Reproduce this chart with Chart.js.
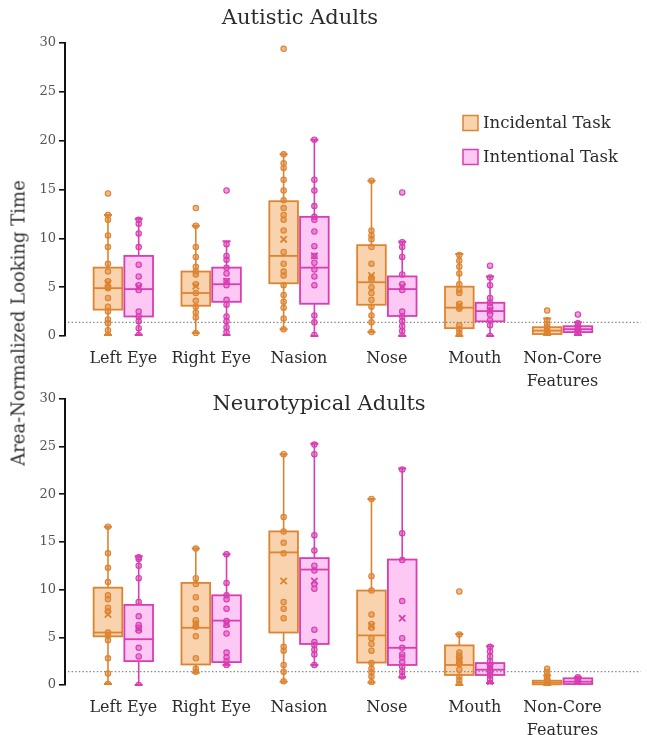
<!DOCTYPE html>
<html>
<head>
<meta charset="utf-8">
<script src="https://cdn.jsdelivr.net/npm/chart.js@4/dist/chart.umd.min.js"></script>
<style>
  html, body { margin: 0; padding: 0; background: #fff; }
  #wrap { position: relative; width: 647px; height: 735px; overflow: hidden; }
  canvas { position: absolute; left: 0; }
  #cTop { top: 0; }
  #cBottom { top: 388px; }
  #ytitle {
    position: absolute; left: 18px; top: 323px;
    transform: translate(-50%, -50%) rotate(-90deg);
    white-space: nowrap; font: 18px 'DejaVu Serif', serif; color: #333;
  }
</style>
</head>
<body>
<div id="wrap">
  <canvas id="cTop" width="647" height="392"></canvas>
  <canvas id="cBottom" width="647" height="347"></canvas>
  <div id="ytitle">Area-Normalized Looking Time</div>
</div>
<script>
// Facial regions (x categories) and the two viewing tasks
const categories = ['Left Eye', 'Right Eye', 'Nasion', 'Nose', 'Mouth', ['Non-Core', 'Features']];
const taskNames = ['Incidental Task', 'Intentional Task'];
const yTicks = [0, 5, 10, 15, 20, 25, 30];
const chanceLevel = 1.4;

// Box summaries per region: [lower whisker, Q1, median, Q3, upper whisker]
const autisticIncidentalBox = [
  [0.1, 2.7, 4.9, 7.0, 12.4], [0.3, 3.1, 4.4, 6.6, 11.3], [0.7, 5.4, 8.2, 13.8, 18.6],
  [0.4, 3.2, 5.5, 9.3, 15.9], [0.0, 0.8, 2.9, 5.05, 8.4], [0.1, 0.2, 0.55, 0.9, 1.8]
];
const autisticIntentionalBox = [
  [0.1, 2.0, 4.8, 8.2, 12.0], [0.1, 3.5, 5.3, 7.0, 9.7], [0.0, 3.3, 7.0, 12.2, 20.1],
  [0.0, 2.05, 4.8, 6.1, 9.65], [0.0, 1.5, 2.55, 3.4, 6.1], [0.1, 0.4, 0.7, 1.0, 1.4]
];
const neurotypicalIncidentalBox = [
  [0.1, 5.1, 5.5, 10.2, 16.6], [1.3, 2.15, 6.0, 10.7, 14.3], [0.35, 5.5, 13.9, 16.1, 24.2],
  [0.25, 2.35, 5.2, 9.9, 19.5], [0.0, 1.05, 2.1, 4.15, 5.35], [0.0, 0.07, 0.25, 0.45, 1.0]
];
const neurotypicalIntentionalBox = [
  [0.0, 2.5, 4.8, 8.4, 13.5], [2.1, 2.4, 6.75, 9.4, 13.7], [2.1, 4.3, 12.1, 13.3, 25.3],
  [0.8, 2.1, 3.9, 13.15, 22.7], [0.2, 1.05, 1.6, 2.3, 4.05], [0.1, 0.1, 0.35, 0.7, 0.8]
];

// Group means per region
const autisticIncidentalMean = [5.4, 5.1, 9.9, 6.2, 3.1, 0.6];
const autisticIntentionalMean = [5.0, 5.6, 8.2, 5.05, 2.6, 0.8];
const neurotypicalIncidentalMean = [7.4, 6.4, 10.9, 6.2, 2.6, 0.35];
const neurotypicalIntentionalMean = [5.9, 6.4, 10.9, 7.0, 1.9, 0.4];

// Individual participants per region
const autisticIncidentalPoints = [
  [14.6, 12.4, 11.9, 10.3, 9.1, 7.4, 6.6, 5.6, 5.0, 4.9, 3.9, 3.0, 2.5, 1.7, 1.3, 0.6, 0.1],
  [13.1, 11.3, 9.1, 8.1, 7.1, 6.6, 6.3, 5.3, 4.4, 3.6, 3.0, 2.4, 1.9, 0.3],
  [29.4, 18.6, 17.7, 17.2, 16.0, 14.9, 13.9, 13.1, 12.4, 11.9, 10.8, 8.6, 7.4, 6.6, 6.2, 5.2, 4.2, 3.5, 2.9, 1.8, 0.7],
  [15.9, 10.8, 10.3, 9.9, 9.1, 7.4, 6.0, 5.7, 5.0, 4.4, 3.7, 3.0, 2.1, 1.4, 0.4],
  [8.3, 7.7, 7.1, 6.4, 5.3, 4.7, 4.4, 3.3, 3.0, 2.8, 1.1, 0.7, 0.3, 0.0],
  [2.6, 1.6, 1.2, 0.9, 0.6, 0.4, 0.2, 0.1]
];
const autisticIntentionalPoints = [
  [11.9, 11.5, 10.5, 9.1, 7.3, 6.1, 5.2, 4.7, 2.5, 2.0, 1.5, 0.8, 0.1],
  [14.9, 9.4, 8.2, 7.8, 7.0, 6.4, 5.6, 5.2, 3.7, 3.2, 2.0, 1.5, 0.9, 0.4],
  [20.1, 16.0, 14.9, 13.3, 12.2, 11.9, 10.7, 9.2, 8.2, 7.5, 6.8, 6.1, 5.2, 2.1, 1.4, 0.1],
  [14.7, 9.6, 9.1, 8.1, 6.3, 5.3, 4.7, 2.5, 2.0, 1.5, 1.0, 0.5, 0.0],
  [7.2, 6.0, 5.2, 3.9, 3.4, 3.0, 2.6, 2.2, 1.6, 1.1, 0.0],
  [2.2, 1.3, 1.0, 0.8, 0.7, 0.6, 0.5, 0.3, 0.2]
];
const neurotypicalIncidentalPoints = [
  [16.6, 13.8, 12.3, 10.8, 9.4, 9.0, 8.1, 7.7, 5.5, 5.2, 4.7, 2.8, 1.2, 0.1],
  [14.3, 11.2, 10.6, 9.2, 8.0, 6.8, 6.4, 6.1, 5.1, 2.8, 1.7, 1.4],
  [24.2, 17.6, 16.1, 14.9, 13.8, 8.7, 8.0, 7.0, 4.0, 3.6, 2.1, 1.4, 0.4],
  [19.5, 11.4, 9.9, 7.4, 6.4, 6.0, 4.9, 4.3, 3.6, 2.3, 1.7, 1.3, 0.9, 0.3],
  [9.8, 5.3, 3.4, 3.1, 2.8, 2.5, 2.2, 1.6, 0.9, 0.5, 0.1],
  [1.7, 1.4, 1.0, 0.6, 0.4, 0.3, 0.2, 0.1, 0.0]
];
const neurotypicalIntentionalPoints = [
  [13.4, 13.2, 12.5, 11.2, 8.7, 7.2, 6.3, 6.0, 5.7, 3.9, 3.0, 0.0],
  [13.7, 10.7, 9.4, 9.0, 8.0, 6.7, 6.3, 5.4, 3.4, 2.9, 2.5, 2.1],
  [25.2, 24.2, 15.7, 14.1, 12.5, 12.0, 10.6, 10.1, 5.8, 4.5, 4.2, 3.7, 3.2, 2.1],
  [22.6, 15.9, 13.1, 8.8, 4.9, 3.9, 3.2, 2.9, 2.4, 1.9, 1.4, 0.9],
  [4.0, 3.5, 3.0, 2.5, 2.1, 1.8, 1.5, 1.3, 1.0, 0.6, 0.2],
  [0.8, 0.6, 0.5, 0.4, 0.3, 0.2]
];

// Styling
const FONT = "'DejaVu Serif', serif";
const taskStyles = [
  { stroke: '#DD8431', fill: '#F9D3AD', dot: 'rgba(221,132,49,0.55)', offset: -0.175 },
  { stroke: '#D93DB2', fill: '#FDC9F4', dot: 'rgba(217,61,178,0.5)', offset: 0.175 }
];
const BOX_HALF = 0.163;   // half box width in category units
const CAP_HALF = 4;       // half whisker-cap width in px

function scatterData(values, offset) {
  const out = [];
  values.forEach((list, i) => list.forEach(v => out.push({ x: i + offset, y: v })));
  return out;
}
function meanData(values, offset) {
  return values.map((v, i) => ({ x: i + offset, y: v }));
}

const boxPlugin = {
  id: 'boxes',
  beforeDatasetsDraw(chart) {
    const { ctx, chartArea, scales: { x, y } } = chart;
    const panel = chart.options.plugins.boxes;
    panel.boxes.forEach((boxes, k) => {
      const st = taskStyles[k];
      boxes.forEach((b, i) => {
        const [lo, q1, med, q3, hi] = b;
        const cx = x.getPixelForValue(i + st.offset);
        const l = x.getPixelForValue(i + st.offset - BOX_HALF);
        const r = x.getPixelForValue(i + st.offset + BOX_HALF);
        const pLo = y.getPixelForValue(lo), pQ1 = y.getPixelForValue(q1);
        const pMed = y.getPixelForValue(med), pQ3 = y.getPixelForValue(q3);
        const pHi = y.getPixelForValue(hi);
        ctx.save();
        ctx.strokeStyle = st.stroke;
        // whiskers and caps
        ctx.lineWidth = 1.6;
        ctx.beginPath();
        ctx.moveTo(cx, pQ3); ctx.lineTo(cx, pHi);
        ctx.moveTo(cx, pQ1); ctx.lineTo(cx, pLo);
        ctx.stroke();
        ctx.lineWidth = 2;
        ctx.beginPath();
        ctx.moveTo(cx - CAP_HALF, pHi); ctx.lineTo(cx + CAP_HALF, pHi);
        ctx.moveTo(cx - CAP_HALF, pLo); ctx.lineTo(cx + CAP_HALF, pLo);
        ctx.stroke();
        // box
        ctx.fillStyle = st.fill;
        ctx.fillRect(l, pQ3, r - l, pQ1 - pQ3);
        ctx.lineWidth = 1.8;
        ctx.strokeRect(l, pQ3, r - l, pQ1 - pQ3);
        // median
        ctx.beginPath();
        ctx.moveTo(l, pMed); ctx.lineTo(r, pMed);
        ctx.stroke();
        ctx.restore();
      });
    });
    // dotted reference level
    const cy = y.getPixelForValue(chanceLevel);
    ctx.save();
    ctx.strokeStyle = '#858585';
    ctx.lineWidth = 1.4;
    ctx.setLineDash([1.4, 2.2]);
    ctx.beginPath();
    ctx.moveTo(chartArea.left + 3, cy);
    ctx.lineTo(chartArea.right, cy);
    ctx.stroke();
    ctx.restore();
  },
  afterDraw(chart) {
    const { ctx } = chart;
    const panel = chart.options.plugins.boxes;
    ctx.save();
    ctx.fillStyle = '#2b2b2b';
    ctx.font = '21px ' + FONT;
    ctx.textAlign = 'center';
    ctx.textBaseline = 'middle';
    ctx.fillText(panel.title, panel.titleX, panel.titleY);
    if (panel.legend) {
      ctx.font = '16.5px ' + FONT;
      ctx.textAlign = 'left';
      taskNames.forEach((name, k) => {
        const st = taskStyles[k];
        const ly = panel.legend.y + k * panel.legend.gap;
        ctx.fillStyle = st.fill;
        ctx.fillRect(panel.legend.x, ly - 7.5, 15, 15);
        ctx.strokeStyle = st.stroke;
        ctx.lineWidth = 1.5;
        ctx.strokeRect(panel.legend.x, ly - 7.5, 15, 15);
        ctx.fillStyle = '#2b2b2b';
        ctx.fillText(name, panel.legend.x + 20, ly + 1);
      });
    }
    ctx.restore();
  }
};

function makePanel(id, cfg) {
  const canvas = document.getElementById(id);
  const datasets = [];
  cfg.points.forEach((pts, k) => {
    const st = taskStyles[k];
    datasets.push({
      label: taskNames[k],
      data: scatterData(pts, st.offset),
      pointRadius: 2.7, borderWidth: 1.1,
      backgroundColor: st.dot, borderColor: st.stroke
    });
  });
  cfg.means.forEach((m, k) => {
    const st = taskStyles[k];
    datasets.push({
      label: taskNames[k] + ' mean',
      data: meanData(m, st.offset),
      pointStyle: 'crossRot', pointRadius: 4.5, borderWidth: 1.8,
      borderColor: st.stroke, backgroundColor: st.stroke
    });
  });
  return new Chart(canvas, {
    type: 'scatter',
    data: { datasets },
    plugins: [boxPlugin],
    options: {
      responsive: false, animation: false, events: [],
      layout: { padding: { top: cfg.padTop, left: 0, right: 0, bottom: 0 } },
      plugins: {
        legend: { display: false }, tooltip: { enabled: false },
        boxes: { boxes: cfg.boxes, title: cfg.title, titleX: cfg.titleX, titleY: cfg.titleY, legend: cfg.legend }
      },
      scales: {
        x: {
          type: 'linear', min: -0.664, max: 5.89,
          afterBuildTicks: s => { s.ticks = categories.map((c, i) => ({ value: i })); },
          afterFit: s => { s.height = cfg.axisH; },
          grid: { display: false, drawTicks: false },
          border: { display: false },
          ticks: {
            padding: 12, color: '#2b2b2b',
            font: { family: FONT, size: 16, lineHeight: 1.4 },
            callback: v => categories[v]
          }
        },
        y: {
          type: 'linear', min: yTicks[0], max: yTicks[yTicks.length - 1],
          afterBuildTicks: s => { s.ticks = yTicks.map(v => ({ value: v })); },
          afterFit: s => { s.width = 65; },
          grid: { drawOnChartArea: false, drawTicks: true, tickLength: 6, color: '#111', lineWidth: 1.6 },
          border: { color: '#111', width: 2 },
          ticks: { padding: 3, color: '#555', font: { family: FONT, size: 13 } }
        }
      }
    }
  });
}

makePanel('cTop', {
  title: 'Autistic Adults', titleX: 300, titleY: 19, padTop: 43, axisH: 56,
  legend: { x: 463, y: 123, gap: 34 },
  boxes: [autisticIncidentalBox, autisticIntentionalBox],
  means: [autisticIncidentalMean, autisticIntentionalMean],
  points: [autisticIncidentalPoints, autisticIntentionalPoints]
});
makePanel('cBottom', {
  title: 'Neurotypical Adults', titleX: 319, titleY: 17, padTop: 8, axisH: 50,
  legend: null,
  boxes: [neurotypicalIncidentalBox, neurotypicalIntentionalBox],
  means: [neurotypicalIncidentalMean, neurotypicalIntentionalMean],
  points: [neurotypicalIncidentalPoints, neurotypicalIntentionalPoints]
});
</script>
</body>
</html>
